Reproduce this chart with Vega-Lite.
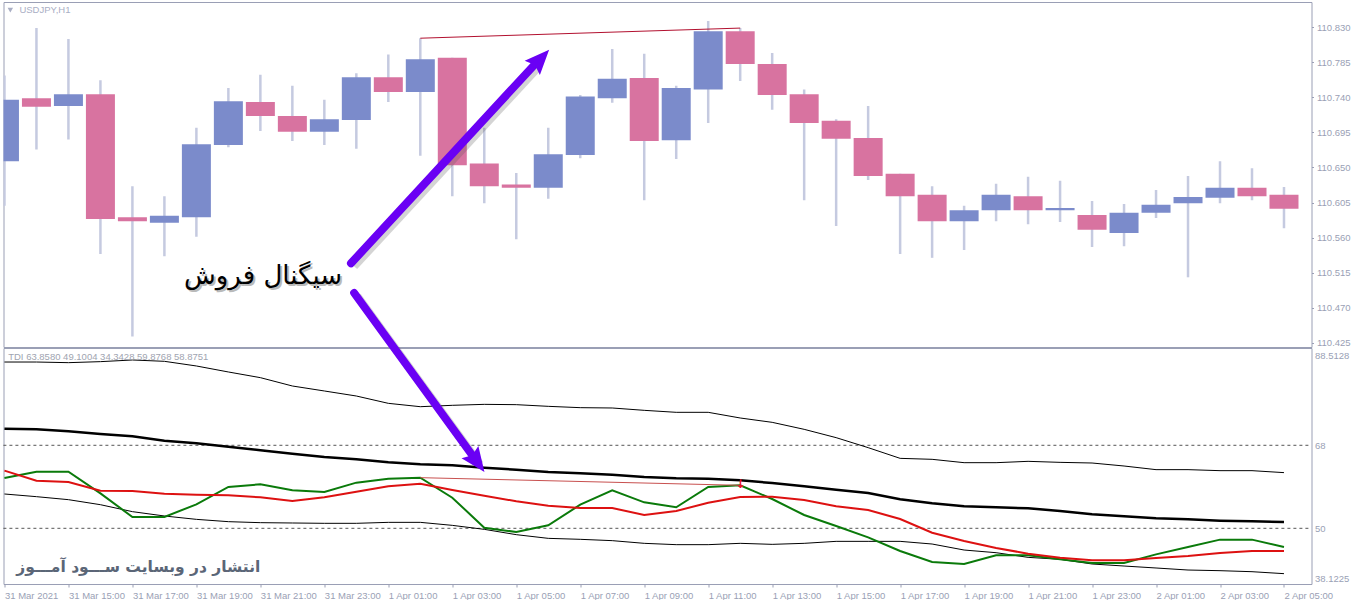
{
  "$schema": "https://vega.github.io/schema/vega-lite/v6.json",
  "padding": {"left": -1.5, "top": 1, "right": 0, "bottom": 0},
  "background": "#ffffff",
  "spacing": 1,
  "bounds": "flush",
  "config": {
    "view": {"stroke": "#9a9fb5", "strokeWidth": 1},
    "axis": {"grid": false, "domain": false, "title": null, "tickColor": "#9a9fb5", "tickSize": 2, "labelColor": "#9a9fb5", "labelFont": "Liberation Sans", "labelFontSize": 9.5, "labelBound": false},
    "text": {"font": "Liberation Sans"}
  },
  "datasets": {
    "candles": [
      {"time":"2021-03-31T13:00:00Z","open":110.658,"high":110.768,"low":110.601,"close":110.737,"dir":"up"},
      {"time":"2021-03-31T14:00:00Z","open":110.739,"high":110.829,"low":110.673,"close":110.728,"dir":"down"},
      {"time":"2021-03-31T15:00:00Z","open":110.729,"high":110.815,"low":110.686,"close":110.744,"dir":"up"},
      {"time":"2021-03-31T16:00:00Z","open":110.744,"high":110.762,"low":110.539,"close":110.584,"dir":"down"},
      {"time":"2021-03-31T17:00:00Z","open":110.586,"high":110.626,"low":110.433,"close":110.581,"dir":"down"},
      {"time":"2021-03-31T18:00:00Z","open":110.579,"high":110.613,"low":110.536,"close":110.588,"dir":"up"},
      {"time":"2021-03-31T19:00:00Z","open":110.586,"high":110.701,"low":110.561,"close":110.680,"dir":"up"},
      {"time":"2021-03-31T20:00:00Z","open":110.679,"high":110.752,"low":110.676,"close":110.735,"dir":"up"},
      {"time":"2021-03-31T21:00:00Z","open":110.734,"high":110.769,"low":110.697,"close":110.716,"dir":"down"},
      {"time":"2021-03-31T22:00:00Z","open":110.716,"high":110.755,"low":110.684,"close":110.696,"dir":"down"},
      {"time":"2021-03-31T23:00:00Z","open":110.696,"high":110.737,"low":110.679,"close":110.712,"dir":"up"},
      {"time":"2021-04-01T00:00:00Z","open":110.711,"high":110.771,"low":110.674,"close":110.766,"dir":"up"},
      {"time":"2021-04-01T01:00:00Z","open":110.766,"high":110.795,"low":110.734,"close":110.747,"dir":"down"},
      {"time":"2021-04-01T02:00:00Z","open":110.747,"high":110.816,"low":110.665,"close":110.789,"dir":"up"},
      {"time":"2021-04-01T03:00:00Z","open":110.791,"high":110.791,"low":110.613,"close":110.653,"dir":"down"},
      {"time":"2021-04-01T04:00:00Z","open":110.655,"high":110.701,"low":110.604,"close":110.626,"dir":"down"},
      {"time":"2021-04-01T05:00:00Z","open":110.628,"high":110.643,"low":110.558,"close":110.624,"dir":"down"},
      {"time":"2021-04-01T06:00:00Z","open":110.624,"high":110.701,"low":110.610,"close":110.667,"dir":"up"},
      {"time":"2021-04-01T07:00:00Z","open":110.666,"high":110.743,"low":110.662,"close":110.741,"dir":"up"},
      {"time":"2021-04-01T08:00:00Z","open":110.739,"high":110.802,"low":110.733,"close":110.764,"dir":"up"},
      {"time":"2021-04-01T09:00:00Z","open":110.765,"high":110.796,"low":110.608,"close":110.684,"dir":"down"},
      {"time":"2021-04-01T10:00:00Z","open":110.685,"high":110.755,"low":110.661,"close":110.752,"dir":"up"},
      {"time":"2021-04-01T11:00:00Z","open":110.750,"high":110.838,"low":110.707,"close":110.825,"dir":"up"},
      {"time":"2021-04-01T12:00:00Z","open":110.825,"high":110.829,"low":110.761,"close":110.783,"dir":"down"},
      {"time":"2021-04-01T13:00:00Z","open":110.783,"high":110.797,"low":110.724,"close":110.743,"dir":"down"},
      {"time":"2021-04-01T14:00:00Z","open":110.744,"high":110.750,"low":110.608,"close":110.707,"dir":"down"},
      {"time":"2021-04-01T15:00:00Z","open":110.710,"high":110.712,"low":110.575,"close":110.687,"dir":"down"},
      {"time":"2021-04-01T16:00:00Z","open":110.688,"high":110.729,"low":110.634,"close":110.639,"dir":"down"},
      {"time":"2021-04-01T17:00:00Z","open":110.642,"high":110.642,"low":110.539,"close":110.613,"dir":"down"},
      {"time":"2021-04-01T18:00:00Z","open":110.615,"high":110.626,"low":110.534,"close":110.581,"dir":"down"},
      {"time":"2021-04-01T19:00:00Z","open":110.581,"high":110.601,"low":110.544,"close":110.595,"dir":"up"},
      {"time":"2021-04-01T20:00:00Z","open":110.595,"high":110.629,"low":110.581,"close":110.615,"dir":"up"},
      {"time":"2021-04-01T21:00:00Z","open":110.613,"high":110.638,"low":110.577,"close":110.595,"dir":"down"},
      {"time":"2021-04-01T22:00:00Z","open":110.595,"high":110.633,"low":110.580,"close":110.598,"dir":"up"},
      {"time":"2021-04-01T23:00:00Z","open":110.589,"high":110.607,"low":110.548,"close":110.570,"dir":"down"},
      {"time":"2021-04-02T00:00:00Z","open":110.566,"high":110.603,"low":110.549,"close":110.592,"dir":"up"},
      {"time":"2021-04-02T01:00:00Z","open":110.592,"high":110.621,"low":110.585,"close":110.602,"dir":"up"},
      {"time":"2021-04-02T02:00:00Z","open":110.604,"high":110.639,"low":110.509,"close":110.612,"dir":"up"},
      {"time":"2021-04-02T03:00:00Z","open":110.611,"high":110.658,"low":110.604,"close":110.624,"dir":"up"},
      {"time":"2021-04-02T04:00:00Z","open":110.624,"high":110.649,"low":110.608,"close":110.613,"dir":"down"},
      {"time":"2021-04-02T05:00:00Z","open":110.615,"high":110.625,"low":110.572,"close":110.597,"dir":"down"}
    ],
    "tdi": [
      {"time":"2021-03-31T13:00:00Z","upper":86.06,"mid":71.61,"lower":57.44,"signal":62.50,"rsi":60.91},
      {"time":"2021-03-31T14:00:00Z","upper":86.06,"mid":71.46,"lower":56.86,"signal":60.33,"rsi":62.28},
      {"time":"2021-03-31T15:00:00Z","upper":85.92,"mid":71.03,"lower":56.21,"signal":60.04,"rsi":62.28},
      {"time":"2021-03-31T16:00:00Z","upper":86.14,"mid":70.45,"lower":55.12,"signal":58.16,"rsi":57.58},
      {"time":"2021-03-31T17:00:00Z","upper":86.50,"mid":69.94,"lower":53.61,"signal":58.09,"rsi":52.45},
      {"time":"2021-03-31T18:00:00Z","upper":86.21,"mid":69.00,"lower":52.67,"signal":57.51,"rsi":52.45},
      {"time":"2021-03-31T19:00:00Z","upper":85.20,"mid":68.43,"lower":51.94,"signal":57.29,"rsi":55.20},
      {"time":"2021-03-31T20:00:00Z","upper":83.90,"mid":67.70,"lower":51.44,"signal":57.15,"rsi":58.96},
      {"time":"2021-03-31T21:00:00Z","upper":82.67,"mid":66.91,"lower":51.22,"signal":56.72,"rsi":59.54},
      {"time":"2021-03-31T22:00:00Z","upper":80.86,"mid":66.19,"lower":51.15,"signal":55.92,"rsi":58.23},
      {"time":"2021-03-31T23:00:00Z","upper":79.78,"mid":65.46,"lower":51.08,"signal":56.72,"rsi":57.87},
      {"time":"2021-04-01T00:00:00Z","upper":78.69,"mid":64.96,"lower":51.08,"signal":57.94,"rsi":59.90},
      {"time":"2021-04-01T01:00:00Z","upper":77.10,"mid":64.30,"lower":51.29,"signal":59.10,"rsi":60.76},
      {"time":"2021-04-01T02:00:00Z","upper":76.37,"mid":63.87,"lower":51.29,"signal":59.68,"rsi":60.98},
      {"time":"2021-04-01T03:00:00Z","upper":76.67,"mid":63.66,"lower":50.64,"signal":58.31,"rsi":56.64},
      {"time":"2021-04-01T04:00:00Z","upper":76.88,"mid":63.15,"lower":49.77,"signal":57.08,"rsi":50.13},
      {"time":"2021-04-01T05:00:00Z","upper":76.81,"mid":62.72,"lower":48.62,"signal":55.85,"rsi":49.20},
      {"time":"2021-04-01T06:00:00Z","upper":76.45,"mid":62.21,"lower":47.82,"signal":54.91,"rsi":50.64},
      {"time":"2021-04-01T07:00:00Z","upper":76.16,"mid":61.92,"lower":47.61,"signal":54.40,"rsi":55.12},
      {"time":"2021-04-01T08:00:00Z","upper":76.09,"mid":61.63,"lower":47.32,"signal":54.40,"rsi":58.23},
      {"time":"2021-04-01T09:00:00Z","upper":75.58,"mid":61.13,"lower":46.74,"signal":52.88,"rsi":55.63},
      {"time":"2021-04-01T10:00:00Z","upper":75.15,"mid":60.84,"lower":46.45,"signal":53.75,"rsi":54.55},
      {"time":"2021-04-01T11:00:00Z","upper":75.15,"mid":60.76,"lower":46.45,"signal":55.56,"rsi":58.96},
      {"time":"2021-04-01T12:00:00Z","upper":73.92,"mid":60.40,"lower":46.74,"signal":56.79,"rsi":59.32},
      {"time":"2021-04-01T13:00:00Z","upper":72.98,"mid":59.82,"lower":46.52,"signal":56.86,"rsi":56.35},
      {"time":"2021-04-01T14:00:00Z","upper":71.46,"mid":59.10,"lower":46.74,"signal":56.14,"rsi":52.88},
      {"time":"2021-04-01T15:00:00Z","upper":69.66,"mid":58.38,"lower":47.17,"signal":54.76,"rsi":50.50},
      {"time":"2021-04-01T16:00:00Z","upper":67.49,"mid":57.65,"lower":47.17,"signal":53.97,"rsi":48.04},
      {"time":"2021-04-01T17:00:00Z","upper":65.17,"mid":56.28,"lower":47.17,"signal":52.01,"rsi":45.08},
      {"time":"2021-04-01T18:00:00Z","upper":64.96,"mid":55.41,"lower":46.59,"signal":49.05,"rsi":42.69},
      {"time":"2021-04-01T19:00:00Z","upper":64.23,"mid":54.76,"lower":45.29,"signal":47.24,"rsi":42.26},
      {"time":"2021-04-01T20:00:00Z","upper":64.23,"mid":54.55,"lower":44.71,"signal":45.73,"rsi":44.14},
      {"time":"2021-04-01T21:00:00Z","upper":64.52,"mid":54.33,"lower":43.70,"signal":44.50,"rsi":44.14},
      {"time":"2021-04-01T22:00:00Z","upper":64.30,"mid":53.75,"lower":43.27,"signal":43.63,"rsi":43.27},
      {"time":"2021-04-01T23:00:00Z","upper":64.16,"mid":53.03,"lower":42.26,"signal":43.05,"rsi":42.47},
      {"time":"2021-04-02T00:00:00Z","upper":63.51,"mid":52.59,"lower":41.82,"signal":43.05,"rsi":42.47},
      {"time":"2021-04-02T01:00:00Z","upper":62.72,"mid":52.16,"lower":41.39,"signal":43.56,"rsi":44.35},
      {"time":"2021-04-02T02:00:00Z","upper":62.72,"mid":51.94,"lower":40.95,"signal":43.99,"rsi":45.94},
      {"time":"2021-04-02T03:00:00Z","upper":62.50,"mid":51.65,"lower":40.81,"signal":44.64,"rsi":47.54},
      {"time":"2021-04-02T04:00:00Z","upper":62.50,"mid":51.51,"lower":40.59,"signal":45.08,"rsi":47.54},
      {"time":"2021-04-02T05:00:00Z","upper":62.07,"mid":51.37,"lower":40.16,"signal":45.08,"rsi":45.94}
    ],
    "priceTrend": [
      {"time":"2021-04-01T02:00:00Z","value":110.816},
      {"time":"2021-04-01T12:00:00Z","value":110.829}
    ],
    "tdiTrend": [
      {"time":"2021-04-01T02:00:00Z","value":60.98},
      {"time":"2021-04-01T12:00:00Z","value":59.32}
    ],
    "levels": [
      {"time":"2021-03-31T12:58:00Z","end":"2021-04-02T05:51:00Z","value":68},
      {"time":"2021-03-31T12:58:00Z","end":"2021-04-02T05:51:00Z","value":50}
    ],
    "arrowUp": [
      {"time":"2021-03-31T23:50:00Z","value":110.527},
      {"time":"2021-04-01T05:37:00Z","value":110.784}
    ],
    "arrowUpShadow": [
      {"time":"2021-03-31T23:56:00Z","value":110.523},
      {"time":"2021-04-01T05:43:00Z","value":110.780}
    ],
    "arrowUpHead": [{"time":"2021-04-01T05:45:00Z","value":110.789}],
    "arrowDown": [
      {"time":"2021-03-31T23:56:00Z","value":101.03},
      {"time":"2021-04-01T03:46:00Z","value":64.49}
    ],
    "arrowDownShadow": [
      {"time":"2021-04-01T00:02:00Z","value":100.38},
      {"time":"2021-04-01T03:52:00Z","value":63.84}
    ],
    "arrowDownHead": [{"time":"2021-04-01T03:46:00Z","value":64.49}],
    "sellMark": [{"time":"2021-04-01T12:00:00Z","value":59.6,"label":"↓"}],
    "symbolLabel": [{"time":"2021-03-31T13:28:00Z","value":110.852,"label":"USDJPY,H1"}],
    "symbolMark": [{"time":"2021-03-31T13:11:00Z","value":110.852}],
    "sellLabel": [{"time":"2021-03-31T21:05:00Z","value":110.511,"label":"سیگنال فروش"}],
    "tdiLabel": [{"time":"2021-03-31T13:07:00Z","value":87.15,"label":"TDI 63.8580 49.1004 34.3428 59.8768 58.8751"}],
    "siteLabel": [{"time":"2021-03-31T17:11:00Z","value":41.61,"label":"انتشار در وبسایت ســـود آمـــوز"}]
  },
  "vconcat": [
    {
      "width": 1308,
      "height": 345,
      "encoding": {
        "x": {"field": "time", "type": "temporal", "axis": null, "scale": {"type": "utc", "padding": 0, "domain": [1617195492000, 1617342696000]}}
      },
      "layer": [
        {
          "data": {"name": "candles"},
          "mark": {"type": "rule", "color": "#c5cae0", "strokeWidth": 2.5, "clip": true},
          "encoding": {
            "y": {"field": "high", "type": "quantitative", "scale": {"domain": [110.4195, 110.8625]},
              "axis": {"orient": "right", "values": [110.425, 110.47, 110.515, 110.56, 110.605, 110.65, 110.695, 110.74, 110.785, 110.83], "tickCount": 12, "format": ".3f", "labelPadding": 3, "labelOverlap": false}},
            "y2": {"field": "low"}
          }
        },
        {
          "data": {"name": "candles"},
          "mark": {"type": "bar", "size": 29, "clip": true},
          "encoding": {
            "y": {"field": "open", "type": "quantitative", "scale": {"domain": [110.4195, 110.8625]}},
            "y2": {"field": "close"},
            "color": {"field": "dir", "type": "nominal", "legend": null, "scale": {"domain": ["up", "down"], "range": ["#7b8bcb", "#d873a0"]}}
          }
        },
        {
          "data": {"name": "priceTrend"},
          "mark": {"type": "line", "color": "#b2102f", "strokeWidth": 1},
          "encoding": {"y": {"field": "value", "type": "quantitative", "scale": {"domain": [110.4195, 110.8625]}}}
        },
        {
          "data": {"name": "arrowUpShadow"},
          "mark": {"type": "line", "color": "#555555", "opacity": 0.25, "strokeWidth": 8},
          "encoding": {"y": {"field": "value", "type": "quantitative", "scale": {"domain": [110.4195, 110.8625]}}}
        },
        {
          "data": {"name": "arrowUp"},
          "mark": {"type": "line", "color": "#6a00f4", "strokeWidth": 8, "strokeCap": "round"},
          "encoding": {"y": {"field": "value", "type": "quantitative", "scale": {"domain": [110.4195, 110.8625]}}}
        },
        {
          "data": {"name": "arrowUpHead"},
          "mark": {"type": "point", "shape": "M0,-1L0.8,0.9L0,0.6L-0.8,0.9Z", "filled": true, "size": 676, "angle": 43, "color": "#6a00f4", "opacity": 1},
          "encoding": {"y": {"field": "value", "type": "quantitative", "scale": {"domain": [110.4195, 110.8625]}}}
        },
        {
          "data": {"name": "symbolMark"},
          "mark": {"type": "point", "shape": "triangle-down", "filled": true, "size": 30, "color": "#a9aec4", "opacity": 1},
          "encoding": {"y": {"field": "value", "type": "quantitative", "scale": {"domain": [110.4195, 110.8625]}}}
        },
        {
          "data": {"name": "symbolLabel"},
          "mark": {"type": "text", "align": "left", "fontSize": 9.5, "color": "#a9aec4"},
          "encoding": {
            "y": {"field": "value", "type": "quantitative", "scale": {"domain": [110.4195, 110.8625]}},
            "text": {"field": "label"}
          }
        },
        {
          "data": {"name": "sellLabel"},
          "mark": {"type": "text", "font": "DejaVu Sans", "fontSize": 26, "color": "#555555", "opacity": 0.4, "dx": 2, "dy": 2},
          "encoding": {
            "y": {"field": "value", "type": "quantitative", "scale": {"domain": [110.4195, 110.8625]}},
            "text": {"field": "label"}
          }
        },
        {
          "data": {"name": "sellLabel"},
          "mark": {"type": "text", "font": "DejaVu Sans", "fontSize": 26, "color": "#000000"},
          "encoding": {
            "y": {"field": "value", "type": "quantitative", "scale": {"domain": [110.4195, 110.8625]}},
            "text": {"field": "label"}
          }
        }
      ]
    },
    {
      "width": 1308,
      "height": 236,
      "encoding": {
        "x": {"field": "time", "type": "temporal", "scale": {"type": "utc", "domain": [1617195492000, 1617342696000]},
          "axis": {
            "values": [1617195600000, 1617202800000, 1617210000000, 1617217200000, 1617224400000, 1617231600000, 1617238800000, 1617246000000, 1617253200000, 1617260400000, 1617267600000, 1617274800000, 1617282000000, 1617289200000, 1617296400000, 1617303600000, 1617310800000, 1617318000000, 1617325200000, 1617332400000, 1617339600000],
            "labelExpr": "+datum.value == 1617195600000 ? '31 Mar 2021' : utcFormat(datum.value, '%-d %b %H:%M')",
            "labelAlign": "left", "labelPadding": 3, "tickSize": 3, "labelAngle": 0, "labelOverlap": false
          }
        }
      },
      "layer": [
        {
          "data": {"name": "levels"},
          "mark": {"type": "rule", "color": "#555555", "strokeWidth": 1, "strokeDash": [3, 3]},
          "encoding": {
            "x2": {"field": "end"},
            "y": {"field": "value", "type": "quantitative", "scale": {"domain": [37.92, 89.1]},
              "axis": {"orient": "right", "values": [38.1225, 50, 68, 88.5128], "labelExpr": "datum.value == 50 || datum.value == 68 ? format(datum.value, 'd') : format(datum.value, '.4f')", "ticks": false, "labelPadding": 3, "labelFlush": 5, "labelOverlap": false}}
          }
        },
        {
          "data": {"name": "tdi"},
          "mark": {"type": "line", "color": "#000000", "strokeWidth": 1},
          "encoding": {"y": {"field": "upper", "type": "quantitative", "scale": {"domain": [37.92, 89.1]}}}
        },
        {
          "data": {"name": "tdi"},
          "mark": {"type": "line", "color": "#000000", "strokeWidth": 1},
          "encoding": {"y": {"field": "lower", "type": "quantitative", "scale": {"domain": [37.92, 89.1]}}}
        },
        {
          "data": {"name": "tdi"},
          "mark": {"type": "line", "color": "#000000", "strokeWidth": 2.5},
          "encoding": {"y": {"field": "mid", "type": "quantitative", "scale": {"domain": [37.92, 89.1]}}}
        },
        {
          "data": {"name": "tdi"},
          "mark": {"type": "line", "color": "#0a7a0a", "strokeWidth": 2},
          "encoding": {"y": {"field": "rsi", "type": "quantitative", "scale": {"domain": [37.92, 89.1]}}}
        },
        {
          "data": {"name": "tdi"},
          "mark": {"type": "line", "color": "#dd1111", "strokeWidth": 2},
          "encoding": {"y": {"field": "signal", "type": "quantitative", "scale": {"domain": [37.92, 89.1]}}}
        },
        {
          "data": {"name": "tdiTrend"},
          "mark": {"type": "line", "color": "#c8504f", "strokeWidth": 1},
          "encoding": {"y": {"field": "value", "type": "quantitative", "scale": {"domain": [37.92, 89.1]}}}
        },
        {
          "data": {"name": "sellMark"},
          "mark": {"type": "text", "fontSize": 12, "fontWeight": "bold", "color": "#f01030", "font": "DejaVu Sans"},
          "encoding": {
            "y": {"field": "value", "type": "quantitative", "scale": {"domain": [37.92, 89.1]}},
            "text": {"field": "label"}
          }
        },
        {
          "data": {"name": "tdiLabel"},
          "mark": {"type": "text", "align": "left", "fontSize": 9.5, "color": "#a0a4b0"},
          "encoding": {
            "y": {"field": "value", "type": "quantitative", "scale": {"domain": [37.92, 89.1]}},
            "text": {"field": "label"}
          }
        },
        {
          "data": {"name": "siteLabel"},
          "mark": {"type": "text", "font": "DejaVu Sans", "fontSize": 15.5, "fontWeight": "bold", "color": "#5b6677"},
          "encoding": {
            "y": {"field": "value", "type": "quantitative", "scale": {"domain": [37.92, 89.1]}},
            "text": {"field": "label"}
          }
        },
        {
          "data": {"name": "arrowDownShadow"},
          "mark": {"type": "line", "color": "#555555", "opacity": 0.25, "strokeWidth": 8},
          "encoding": {"y": {"field": "value", "type": "quantitative", "scale": {"domain": [37.92, 89.1]}}}
        },
        {
          "data": {"name": "arrowDown"},
          "mark": {"type": "line", "color": "#6a00f4", "strokeWidth": 8, "strokeCap": "round"},
          "encoding": {"y": {"field": "value", "type": "quantitative", "scale": {"domain": [37.92, 89.1]}}}
        },
        {
          "data": {"name": "arrowDownHead"},
          "mark": {"type": "point", "shape": "M0,-1L0.8,0.9L0,0.6L-0.8,0.9Z", "filled": true, "size": 676, "angle": 144, "color": "#6a00f4", "opacity": 1},
          "encoding": {"y": {"field": "value", "type": "quantitative", "scale": {"domain": [37.92, 89.1]}}}
        }
      ]
    }
  ]
}
